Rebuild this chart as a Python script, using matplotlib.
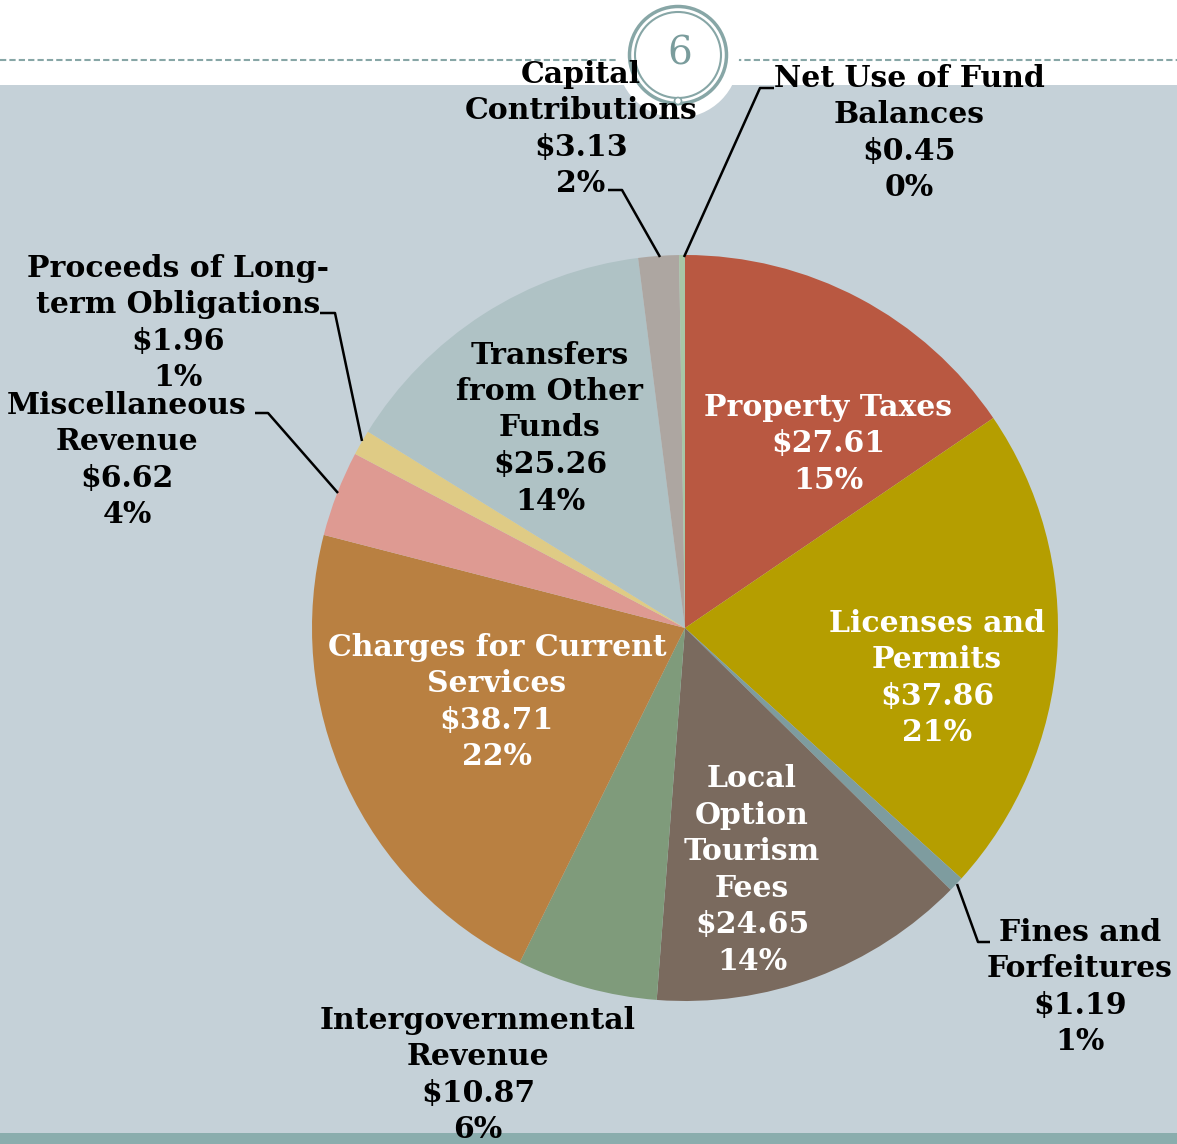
import matplotlib
matplotlib.use("Agg")
import matplotlib.pyplot as plt
from matplotlib.patches import Circle, Rectangle

W, H = 1177, 1144

labels = [
    "Property Taxes", "Licenses and\nPermits", "Fines and\nForfeitures",
    "Local\nOption\nTourism\nFees", "Intergovernmental\nRevenue",
    "Charges for Current\nServices", "Miscellaneous\nRevenue",
    "Proceeds of Long-\nterm Obligations", "Transfers\nfrom Other\nFunds",
    "Capital\nContributions", "Net Use of Fund\nBalances",
]
values = [27.61, 37.86, 1.19, 24.65, 10.87, 38.71, 6.62, 1.96, 25.26, 3.13, 0.45]
percents = ["15%", "21%", "1%", "14%", "6%", "22%", "4%", "1%", "14%", "2%", "0%"]
colors = ["#B95841", "#B59E00", "#7E9C9F", "#7A6A5E", "#7F9B7B", "#B98041",
          "#DE9A92", "#DFCB85", "#AFC2C5", "#ADA6A1", "#A8C6A6"]

# label block centre (pixel coords, y down), text colour, leader line points
label_pos = [
    (828, 441), (937, 675), (1080, 984), (752, 867), (478, 1072),
    (497, 699), (127, 457), (178, 320), (550, 425), (581, 126), (909, 130),
]
label_color = ["white", "white", "black", "white", "black",
               "white", "black", "black", "black", "black", "black"]
leaders = {
    2: [(990, 942), (978, 942), (957, 884)],
    6: [(255, 413), (268, 413), (338, 493)],
    7: [(320, 313), (335, 313), (362, 441)],
    9: [(608, 190), (622, 190), (660, 257)],
    10: [(774, 88), (760, 88), (684, 257)],
}
LINE_STEP = 36.5

BG = "#C5D1D8"
TEAL = "#87A6A6"

fig = plt.figure(figsize=(W / 100, H / 100), dpi=100)
fig.patch.set_facecolor("white")
ax = fig.add_axes([0, 0, 1, 1])


def py(y):
    return H - y


# background panels
ax.add_patch(Rectangle((0, 0), W, py(85), facecolor=BG, edgecolor="none", zorder=0))
ax.add_patch(Rectangle((0, 0), W, H - 1133, facecolor="#8AADAD", edgecolor="none", zorder=0.5))
ax.plot([0, 628], [py(60), py(60)], color=TEAL, lw=1.5, ls=(0, (3, 1.5)), zorder=1)
ax.plot([735, W], [py(60), py(60)], color=TEAL, lw=1.5, ls=(0, (3, 1.5)), zorder=1)
ax.add_patch(Circle((678, py(57)), 61, facecolor="white", edgecolor="none", zorder=1))
ax.add_patch(Circle((678, py(55)), 48.5, facecolor="none", edgecolor=TEAL, lw=2.5, zorder=2))
ax.add_patch(Circle((678, py(55)), 43, facecolor="none", edgecolor=TEAL, lw=1.5, zorder=2))
ax.add_patch(Circle((678, py(101)), 3.5, facecolor="white", edgecolor=TEAL, lw=1.2, zorder=2))
ax.text(680, py(54), "6", ha="center", va="center", fontsize=28, color="#7A9C9C",
        family="DejaVu Serif", zorder=3)

ax.pie(values, colors=colors, startangle=90, counterclock=False,
       center=(685, py(628)), radius=373, frame=True,
       wedgeprops=dict(linewidth=0, zorder=2))
ax.set_xlim(0, W)
ax.set_ylim(0, H)
ax.set_aspect("equal")
ax.axis("off")

for i, (lab, val, pct) in enumerate(zip(labels, values, percents)):
    x, y = label_pos[i]
    lines = lab.split("\n") + [f"${val:.2f}", pct]
    n = len(lines)
    for k, line in enumerate(lines):
        yk = y + (k - (n - 1) / 2) * LINE_STEP
        ax.text(x, py(yk), line, ha="center", va="center_baseline",
                fontsize=21.5, fontweight="bold", family="DejaVu Serif",
                color=label_color[i], zorder=5)

for i, pts in leaders.items():
    xs = [p[0] for p in pts]
    ys = [py(p[1]) for p in pts]
    ax.plot(xs, ys, color="black", lw=1.8, zorder=4, solid_capstyle="butt")

fig.savefig("out.png", dpi=100, facecolor=fig.get_facecolor())
